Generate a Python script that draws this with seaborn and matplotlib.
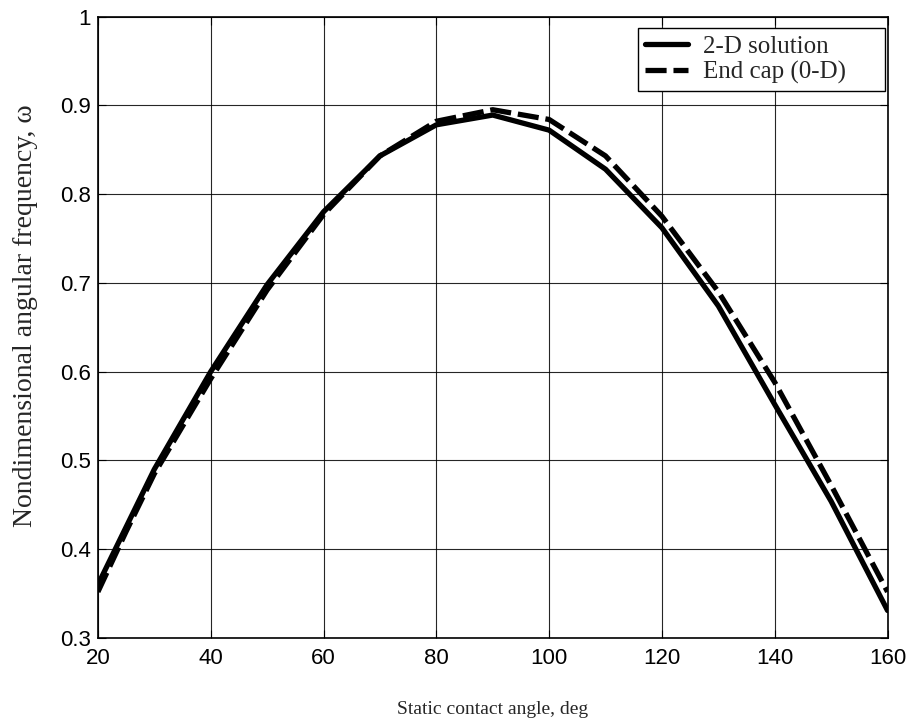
import matplotlib
matplotlib.use("Agg")
import matplotlib.pyplot as plt
import pandas as pd
import seaborn as sns

angle = [20, 25, 30, 40, 50, 60, 70, 80, 90, 100, 110, 120, 130, 140, 150, 160]
omega_2d = [0.360, 0.425, 0.490, 0.600, 0.698, 0.780, 0.843, 0.878, 0.889,
            0.872, 0.828, 0.762, 0.674, 0.563, 0.454, 0.331]
omega_cap = [0.352, 0.420, 0.485, 0.592, 0.692, 0.777, 0.843, 0.882, 0.895,
             0.884, 0.843, 0.775, 0.690, 0.588, 0.472, 0.352]

x_ticks = [20, 40, 60, 80, 100, 120, 140, 160]
y_ticks = [0.3, 0.4, 0.5, 0.6, 0.7, 0.8, 0.9, 1.0]
y_ticklabels = ["0.3", "0.4", "0.5", "0.6", "0.7", "0.8", "0.9", "1"]

df = pd.DataFrame({"angle": angle, "2d": omega_2d, "cap": omega_cap})

sns.set_theme(style="white")
plt.rcParams["font.family"] = ["Liberation Sans", "DejaVu Sans"]
serif = ["Liberation Serif", "DejaVu Serif"]

fig = plt.figure(figsize=(9.15, 7.27), dpi=100)
ax = fig.add_axes([0.107, 0.1224, 0.863, 0.8549])

sns.lineplot(data=df, x="angle", y="2d", ax=ax, color="black", linewidth=3.8,
             label="2-D solution")
sns.lineplot(data=df, x="angle", y="cap", ax=ax, color="black", linewidth=3.8,
             label="End cap (0-D)")
ax.lines[1].set_dashes([4, 1.3])

ax.set_xlim(20, 160)
ax.set_ylim(0.3, 1.0)
ax.set_xticks(x_ticks)
ax.set_yticks(y_ticks)
ax.set_yticklabels(y_ticklabels)
ax.tick_params(direction="in", length=6, width=0.8, labelsize=16, colors="black",
               top=True, right=True, bottom=True, left=True)
ax.tick_params(axis="x", pad=7)
ax.tick_params(axis="y", pad=5)
ax.grid(True, color="black", linewidth=0.8, alpha=0.85)
for s in ax.spines.values():
    s.set_color("black")
    s.set_linewidth(1.2)

ax.set_xlabel("Static contact angle, deg", fontsize=14, family=serif)
ax.xaxis.set_label_coords(0.5, -0.101)
ax.set_ylabel("Nondimensional angular frequency, \u03c9", fontsize=20, family=serif)
ax.yaxis.set_label_coords(-0.076, 0.518)

# MATLAB-style legend box, wider than its content
leg = ax.legend(loc="upper left", bbox_to_anchor=(0.6835, 0.8753, 0.3127, 0.106),
                mode="expand", borderaxespad=0, frameon=True, fancybox=False,
                handlelength=1.7, handletextpad=0.6, labelspacing=0.1, borderpad=0.3,
                prop={"family": serif, "size": 18})
leg.get_frame().set_edgecolor("black")
leg.get_frame().set_linewidth(1.0)
leg.get_frame().set_alpha(1.0)

fig.savefig("out.png", dpi=100)
plt.close(fig)
